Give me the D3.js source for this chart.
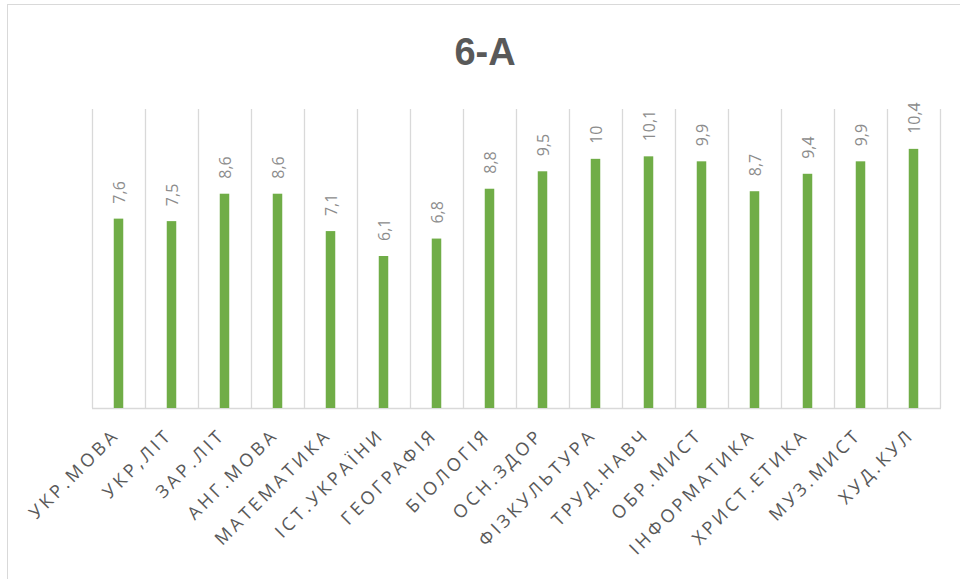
<!DOCTYPE html>
<html>
<head>
<meta charset="utf-8">
<script src="https://cdn.jsdelivr.net/npm/d3@7.9.0/dist/d3.min.js"></script>
<style>
  body { margin: 0; background: #fff; }
  svg { display: block; }
</style>
</head>
<body>
<svg id="chart" width="960" height="579"></svg>
<script>
// subjects and average marks
const subjects = ["УКР.МОВА", "УКР,ЛІТ", "ЗАР.ЛІТ", "АНГ.МОВА", "МАТЕМАТИКА", "ІСТ.УКРАЇНИ",
  "ГЕОГРАФІЯ", "БІОЛОГІЯ", "ОСН.ЗДОР", "ФІЗКУЛЬТУРА", "ТРУД.НАВЧ", "ОБР.МИСТ",
  "ІНФОРМАТИКА", "ХРИСТ.ЕТИКА", "МУЗ.МИСТ", "ХУД.КУЛ"];
const marks = [7.6, 7.5, 8.6, 8.6, 7.1, 6.1, 6.8, 8.8, 9.5, 10, 10.1, 9.9, 8.7, 9.4, 9.9, 10.4];
const yDomain = [0, 12];

const svg = d3.select("#chart");
const plotTop = 109, plotBottom = 408;

// chart frame (runs off the right/bottom edge like the screenshot)
svg.append("rect")
  .attr("x", 7.5).attr("y", 4.5)
  .attr("width", 980).attr("height", 600)
  .attr("fill", "#fff").attr("stroke", "#d9d9d9");

svg.append("text")
  .attr("x", 485).attr("y", 65)
  .attr("text-anchor", "middle")
  .attr("font-family", "'Liberation Sans', sans-serif")
  .attr("font-weight", "bold")
  .attr("font-size", 38)
  .attr("fill", "#595959")
  .text("6-A");

const x = d3.scaleBand().domain(subjects).range([92, 940]);
const y = d3.scaleLinear().domain(yDomain).range([plotBottom, plotTop]);

// vertical gridlines between categories
const bounds = subjects.map(s => x(s)).concat([x.range()[1]]);
svg.append("g").selectAll("line")
  .data(bounds)
  .enter().append("line")
  .attr("x1", d => d + 0.5).attr("x2", d => d + 0.5)
  .attr("y1", y(yDomain[1])).attr("y2", y(0))
  .attr("stroke", "#d9d9d9").attr("stroke-width", 1.3);

// baseline
svg.append("line")
  .attr("x1", 92).attr("x2", 941)
  .attr("y1", y(0) + 0.5).attr("y2", y(0) + 0.5)
  .attr("stroke", "#d9d9d9").attr("stroke-width", 1.5);

const barW = 9.5;
svg.append("g").selectAll("rect")
  .data(marks)
  .enter().append("rect")
  .attr("x", (d, i) => x(subjects[i]) + x.bandwidth() / 2 - barW / 2)
  .attr("y", d => y(d))
  .attr("width", barW)
  .attr("height", d => y(0) - y(d))
  .attr("fill", "#70ad47");

// value labels (rotated)
svg.append("g").selectAll("text")
  .data(marks)
  .enter().append("text")
  .attr("transform", (d, i) => `translate(${x(subjects[i]) + x.bandwidth() / 2 + 6},${y(d) - 15}) rotate(-90)`)
  .attr("font-family", "'Open Sans', sans-serif")
  .attr("font-size", 16)
  .attr("fill", "#8c8c8c")
  .text(d => String(d).replace(".", ","));

// category labels
svg.append("g").selectAll("text")
  .data(subjects)
  .enter().append("text")
  .attr("transform", d => `translate(${x(d) + x.bandwidth() / 2 + 2},${y(0) + 28}) rotate(-45)`)
  .attr("text-anchor", "end")
  .attr("font-family", "'Open Sans', sans-serif")
  .attr("font-size", 18)
  .attr("letter-spacing", 3.5)
  .attr("fill", "#595959")
  .text(d => d);
</script>
</body>
</html>
